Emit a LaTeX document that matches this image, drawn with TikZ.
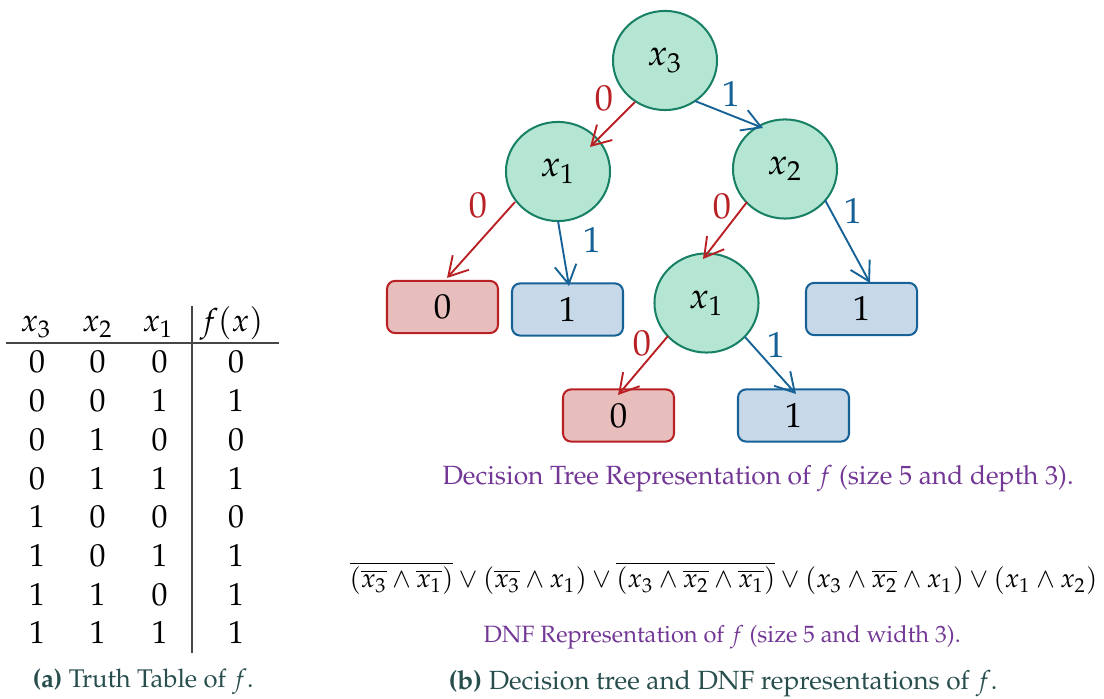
\documentclass[tikz,border=0pt]{standalone}
\usepackage[T1]{fontenc}
\usepackage{mathpazo}
\usepackage{graphicx}
\usetikzlibrary{arrows.meta,shapes.geometric,calc}

\definecolor{nodefill}{RGB}{181,230,212}
\definecolor{nodeline}{RGB}{24,128,100}
\definecolor{zeroline}{RGB}{185,32,36}
\definecolor{zerofill}{RGB}{232,190,188}
\definecolor{oneline}{RGB}{22,98,150}
\definecolor{onefill}{RGB}{199,216,232}
\definecolor{capviolet}{RGB}{115,55,150}
\definecolor{capdark}{RGB}{40,78,78}
\definecolor{rulegray}{RGB}{70,70,70}

\begin{document}
\begin{tikzpicture}[x=0.345pt,y=-0.345pt,
  inner/.style={ellipse, draw=nodeline, fill=nodefill, line width=0.7pt,
    minimum width=35.9pt, minimum height=34.2pt, inner sep=0pt,
    font=\fontsize{12.5}{14}\selectfont},
  leaf/.style={rectangle, rounded corners=2.8pt, line width=0.7pt,
    minimum width=38.3pt, minimum height=18pt, inner sep=0pt,
    font=\fontsize{12}{14}\selectfont},
  leafzero/.style={leaf, draw=zeroline, fill=zerofill},
  leafone/.style={leaf, draw=oneline, fill=onefill},
  arc/.style={line width=0.65pt, -{Straight Barb[length=6.5pt,width=7.5pt]}},
  arczero/.style={arc, draw=zeroline},
  arcone/.style={arc, draw=oneline},
  lab/.style={inner sep=0pt, font=\fontsize{12.5}{14}\selectfont},
  labzero/.style={lab, text=zeroline},
  labone/.style={lab, text=oneline},
  cell/.style={anchor=base, inner sep=0pt, font=\fontsize{11}{13}\selectfont},
  caption/.style={anchor=base west, inner sep=0pt},
]
\useasboundingbox (0,0) rectangle (1104,699);

% ---------- truth table ----------
\node[cell] (h3) at (36,332) {$x_3$};
\node[cell] (h2) at (97.5,332) {$x_2$};
\node[cell] (h1) at (158,332) {$x_1$};
\node[cell] (hf) at (231.5,332) {$f(x)$};
\draw[rulegray, line width=0.45pt] (6,343) -- (279,343);
\draw[rulegray, line width=0.45pt] (192,306) -- (192,653);
\foreach \a/\b/\c/\v [count=\k from 0] in
  {0/0/0/0, 0/0/1/1, 0/1/0/0, 0/1/1/1, 1/0/0/0, 1/0/1/1, 1/1/0/1, 1/1/1/1} {
  \pgfmathsetmacro{\yb}{373+38.7*\k}
  \node[cell] (r\k a) at (37,\yb) {$\a$};
  \node[cell] (r\k b) at (97.5,\yb) {$\b$};
  \node[cell] (r\k c) at (159.5,\yb) {$\c$};
  \node[cell] (r\k f) at (236,\yb) {$\v$};
}
\node[caption] (capa) at (32,688)
  {\resizebox{76.2pt}{!}{\color{capdark}\textbf{(a)} Truth Table of $f$.}};

% ---------- decision tree ----------
\node[inner] (r) at (665,60.5) {$x_3$};
\node[inner] (a) at (558,171.5) {$x_1$};
\node[inner] (b) at (785,169) {$x_2$};
\node[inner] (c) at (706.5,303) {$x_1$};
\node[leafzero] (l0) at (442.5,307) {0};
\node[leafone]  (l1) at (567.5,309.5) {1};
\node[leafone]  (r1) at (861.5,309) {1};
\node[leafzero] (m0) at (618.5,415.5) {0};
\node[leafone]  (m1) at (793.5,415.5) {1};

\draw[arczero] ($(r)+(-30,41.5)$) -- ($(a)+(32,-24.5)$);
\draw[arcone]  ($(r)+(30,40.5)$)  -- ($(b)+(-22,-41)$);
\draw[arczero] ($(a)+(-43,30.5)$) -- ($(l0)+(4.5,-29)$);
\draw[arcone]  ($(a)+(0,49.5)$)   -- ($(l1)+(1.5,-23.5)$);
\draw[arczero] ($(b)+(-38,33)$)   -- ($(c)+(-3.5,-44)$);
\draw[arcone]  ($(b)+(40,31)$)    -- ($(r1)+(8.5,-26)$);
\draw[arczero] ($(c)+(-38.5,33)$) -- ($(m0)+(-0.5,-20.5)$);
\draw[arcone]  ($(c)+(38.5,34)$)  -- ($(m1)+(2.5,-21.5)$);

\node[labzero] (e1) at (604,98) {0};
\node[labone]  (e2) at (731,94) {1};
\node[labzero] (e3) at (478,205) {0};
\node[labone]  (e4) at (592,240) {1};
\node[labzero] (e5) at (722,206) {0};
\node[labone]  (e6) at (853,211) {1};
\node[labzero] (e7) at (642,343) {0};
\node[labone]  (e8) at (776,345) {1};

\node[caption] (capdt) at (442,485)
  {\resizebox{217.7pt}{!}{\color{capviolet}Decision Tree Representation of $f$ (size 5 and depth 3).}};

% ---------- DNF ----------
\node[caption] (dnf) at (349,588)
  {\resizebox{258pt}{!}{$\overline{(\overline{x_3}\wedge\overline{x_1})}\vee(\overline{x_3}\wedge x_1)\vee\overline{(x_3\wedge\overline{x_2}\wedge\overline{x_1})}\vee(x_3\wedge\overline{x_2}\wedge x_1)\vee(x_1\wedge x_2)$}};
\node[caption] (capdnf) at (483,643)
  {\resizebox{164.6pt}{!}{\color{capviolet}DNF Representation of $f$ (size 5 and width 3).}};

\node[caption] (capb) at (448,690)
  {\resizebox{189.4pt}{!}{\color{capdark}\textbf{(b)} Decision tree and DNF representations of $f$.}};
\end{tikzpicture}
\end{document}
